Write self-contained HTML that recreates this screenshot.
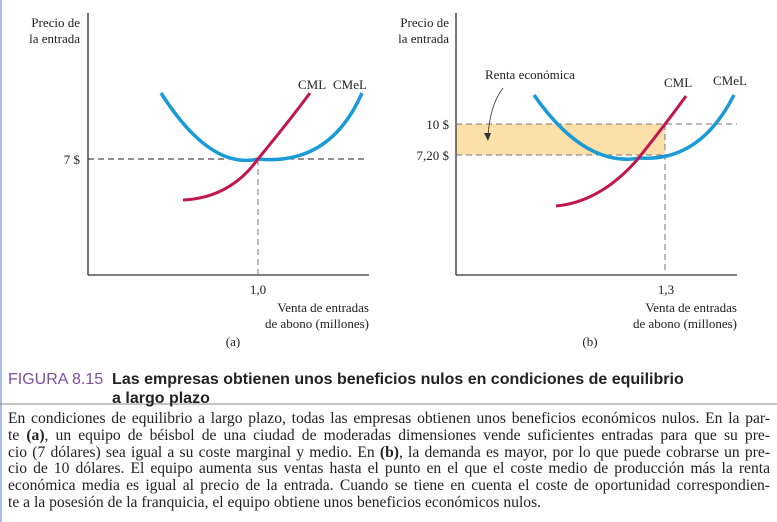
<!DOCTYPE html>
<html><head><meta charset="utf-8"><style>
body{margin:0;width:777px;height:522px;background:#fff;position:relative;overflow:hidden;font-family:"Liberation Serif",serif;}
svg{position:absolute;left:0;top:0}
.t{font-family:"Liberation Serif",serif;font-size:13px;fill:#222}
.cap{position:absolute;left:8px;top:370px;font-family:"Liberation Sans",sans-serif;font-size:16px;font-weight:bold;color:#222;line-height:19px}
.cap span{color:#7d4f9f;font-weight:normal}
.body{position:absolute;left:8px;top:411px;width:762px;font-size:15.6px;line-height:16.8px;color:#222}
.body div{text-align:justify;text-align-last:justify;white-space:nowrap}
.body div.l{text-align-last:left}
</style></head><body>
<div style="position:absolute;left:0;top:0;width:2px;height:522px;background:#a9bfe0"></div>
<svg width="777" height="522">
<line x1="88" y1="13" x2="88" y2="275" stroke="#333" stroke-width="1.3"/>
<line x1="88" y1="275" x2="369" y2="275" stroke="#333" stroke-width="1.3"/>
<line x1="88" y1="159" x2="366" y2="159" stroke="#222" stroke-dasharray="6,4"/>
<line x1="258" y1="159" x2="258" y2="275" stroke="#777" stroke-dasharray="6,4"/>
<path d="M161,93 Q210,170 258,159 Q330,166 362,93" fill="none" stroke="#1a9ad6" stroke-width="3.5"/>
<path d="M183,200 Q230,198 258,159 Q290,120 310,93" fill="none" stroke="#c0174f" stroke-width="3"/>
<text class="t" x="80" y="27" text-anchor="end">Precio de</text>
<text class="t" x="80" y="43" text-anchor="end">la entrada</text>
<text class="t" x="80" y="164" text-anchor="end">7 $</text>
<text class="t" x="298" y="89">CML</text>
<text class="t" x="333" y="89">CMeL</text>
<text class="t" x="258" y="294" text-anchor="middle">1,0</text>
<text class="t" x="369" y="312" text-anchor="end">Venta de entradas</text>
<text class="t" x="369" y="328" text-anchor="end">de abono (millones)</text>
<text class="t" x="233" y="346" text-anchor="middle">(a)</text>
<rect x="456" y="124" width="209" height="31" fill="#fbe0aa"/>
<line x1="456" y1="13" x2="456" y2="275" stroke="#333" stroke-width="1.3"/>
<line x1="456" y1="275" x2="737" y2="275" stroke="#333" stroke-width="1.3"/>
<line x1="456" y1="124" x2="737" y2="124" stroke="#777" stroke-dasharray="6,4"/>
<line x1="456" y1="155" x2="665" y2="155" stroke="#777" stroke-dasharray="6,4"/>
<line x1="665" y1="124" x2="665" y2="275" stroke="#777" stroke-dasharray="6,4"/>
<path d="M534,95 Q585,168 640,158 Q700,162 734,95" fill="none" stroke="#1a9ad6" stroke-width="3.5"/>
<path d="M556,206 Q600,202 637,160 Q665,125 686,96" fill="none" stroke="#c0174f" stroke-width="3"/>
<path d="M503,88 Q490,105 488,136" fill="none" stroke="#333" stroke-width="0.8"/>
<path d="M484,133 L488,141 L491,133 Z" fill="#333"/>
<text class="t" x="449" y="27" text-anchor="end">Precio de</text>
<text class="t" x="449" y="43" text-anchor="end">la entrada</text>
<text class="t" x="449" y="129" text-anchor="end">10 $</text>
<text class="t" x="449" y="160" text-anchor="end">7,20 $</text>
<text class="t" x="485" y="79">Renta económica</text>
<text class="t" x="664" y="87">CML</text>
<text class="t" x="713" y="85">CMeL</text>
<text class="t" x="666" y="294" text-anchor="middle">1,3</text>
<text class="t" x="737" y="312" text-anchor="end">Venta de entradas</text>
<text class="t" x="737" y="328" text-anchor="end">de abono (millones)</text>
<text class="t" x="590" y="346" text-anchor="middle">(b)</text>
<line x1="0" y1="404" x2="777" y2="404" stroke="#888" stroke-width="1"/>
</svg>
<div class="cap"><span>FIGURA 8.15</span>&nbsp; Las empresas obtienen unos beneficios nulos en condiciones de equilibrio<br><span style="visibility:hidden">FIGURA 8.15</span>&nbsp; a largo plazo</div>
<div class="body">
<div>En condiciones de equilibrio a largo plazo, todas las empresas obtienen unos beneficios económicos nulos. En la par-</div>
<div>te <b>(a)</b>, un equipo de béisbol de una ciudad de moderadas dimensiones vende suficientes entradas para que su pre-</div>
<div>cio (7 dólares) sea igual a su coste marginal y medio. En <b>(b)</b>, la demanda es mayor, por lo que puede cobrarse un pre-</div>
<div>cio de 10 dólares. El equipo aumenta sus ventas hasta el punto en el que el coste medio de producción más la renta</div>
<div>económica media es igual al precio de la entrada. Cuando se tiene en cuenta el coste de oportunidad correspondien-</div>
<div class="l">te a la posesión de la franquicia, el equipo obtiene unos beneficios económicos nulos.</div>
</div>
</body></html>
